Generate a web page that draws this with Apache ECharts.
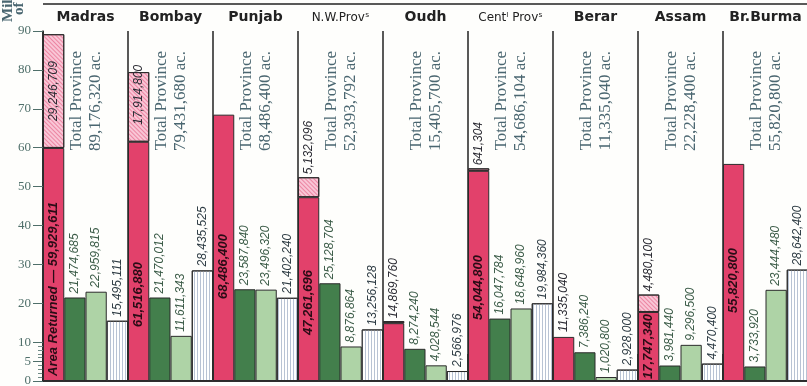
<!DOCTYPE html>
<html>
<head>
<meta charset="utf-8">
<script src="https://cdn.jsdelivr.net/npm/echarts@6/dist/echarts.min.js"></script>
<style>
  html, body { margin: 0; padding: 0; background: #fefefc; }
  #main { width: 807px; height: 386px; }
</style>
</head>
<body>
<div id="main"></div>
<script>
const provinces = ['Madras', 'Bombay', 'Punjab', 'N.W.Provˢ', 'Oudh', 'Centˡ Provˢ', 'Berar', 'Assam', 'Br.Burma']
const totalArea = [89176320, 79431680, 68486400, 52393792, 15405700, 54686104, 11335040, 22228400, 55820800]
const areaReturned = [59929611, 61516880, 68486400, 47261696, 14869760, 54044800, 11335040, 17747340, 55820800]
const areaNotReturned = [29246709, 17914800, 0, 5132096, 535940, 641304, 0, 4480100, 0]
const darkGreen = [21474685, 21470012, 23587840, 25128704, 8274240, 16047784, 7386240, 3981440, 3733920]
const lightGreen = [22959815, 11611343, 23496320, 8876864, 4028544, 18648960, 1020800, 9296500, 23444480]
const hatched = [15495111, 28435525, 21402240, 13256128, 2566976, 19984360, 2928000, 4470400, 28642400]
const yTicks = [0, 5, 10, 20, 30, 40, 50, 60, 70, 80, 90]
const yMinorTicks = [1, 2, 3, 4, 6, 7, 8, 9]

// where the printed figure sits on each red / pink bar
const redLabelPlace = [
  ['insideBottom', 5], ['insideBottom', 54], ['insideBottom', 82], ['insideBottom', 46],
  ['top', 5], ['insideBottom', 61], ['top', 5], ['insideBottom', 2], ['insideBottom', 68],
]
const pinkLabelPlace = [['inside', 0], ['insideBottom', 17], null, ['top', 3], null, ['top', 3], null, ['top', 3], null]

const fmt = (v) => v.toLocaleString('en-US')
const M = (v) => v / 1e6

const border = { borderColor: '#2b2b2b', borderWidth: 1 }
const numFont = { fontFamily: 'Liberation Sans', fontStyle: 'italic', fontSize: 12 }

const vLabel = (extra) => ({
  show: true,
  rotate: 90,
  align: 'left',
  verticalAlign: 'middle',
  ...numFont,
  ...extra,
})

const redData = areaReturned.map((v, i) => {
  const [position, distance] = redLabelPlace[i]
  const inside = position !== 'top'
  return {
    value: M(v),
    label: vLabel({
      position,
      distance,
      fontWeight: inside ? 'bold' : 'normal',
      fontSize: inside ? 13 : 12,
      color: inside ? '#2a0c16' : '#2b2b33',
      formatter: () => (i === 0 ? 'Area Returned — ' : '') + fmt(v),
    }),
  }
})

const pinkData = areaNotReturned.map((v, i) => {
  if (!v) return '-'
  const place = pinkLabelPlace[i]
  return {
    value: M(v),
    label: place
      ? vLabel({
          position: place[0],
          distance: place[1],
          align: place[0] === 'inside' ? 'center' : 'left',
          color: '#2b2b33',
          formatter: () => fmt(v),
        })
      : { show: false },
  }
})

const simpleSeries = (name, values, color, labelColor, decal) => ({
  name,
  type: 'bar',
  data: values.map(M),
  barGap: '0%',
  barCategoryGap: '0%',
  itemStyle: { color, ...border, decal },
  label: vLabel({ position: 'top', distance: 4, color: labelColor, formatter: (p) => fmt(values[p.dataIndex]) }),
})

const chart = echarts.init(document.getElementById('main'))

chart.setOption({
  backgroundColor: '#fefefc',
  animation: false,
  grid: { left: 43, top: 31, width: 765, height: 350, outerBoundsMode: 'none' },
  xAxis: [
    {
      type: 'category',
      data: provinces,
      position: 'bottom',
      axisLine: { lineStyle: { color: '#222', width: 1.5 } },
      axisTick: { show: false },
      axisLabel: { show: false },
      splitLine: { show: true, interval: 0, lineStyle: { color: '#222', width: 1.5 } },
    },
    {
      type: 'category',
      data: provinces.map((p) =>
        p.includes('ˢ') ? { value: p, textStyle: { fontWeight: 'normal', fontSize: 12 } } : p
      ),
      position: 'top',
      axisLine: { lineStyle: { color: '#222', width: 1.5 } },
      axisTick: { show: true, interval: 0, length: 27, lineStyle: { color: '#222', width: 1.5 } },
      axisLabel: {
        interval: 0,
        margin: 7,
        fontFamily: 'DejaVu Sans',
        fontWeight: 'bold',
        fontSize: 14,
        color: '#222',
      },
    },
  ],
  yAxis: [
    {
      type: 'value',
      min: 0,
      max: 90,
      position: 'left',
      axisLine: { show: true, lineStyle: { color: '#222', width: 1.5 } },
      axisTick: { show: true, customValues: yTicks, length: 10, lineStyle: { color: '#4f6f6a' } },
      axisLabel: { customValues: yTicks, margin: 12, fontFamily: 'Liberation Serif', fontSize: 13, color: '#4f6f6a' },
      splitLine: { show: false },
    },
    {
      type: 'value',
      min: 0,
      max: 90,
      position: 'left',
      axisLine: { show: false },
      axisTick: { show: true, customValues: yMinorTicks, length: 5, lineStyle: { color: '#6f8a86' } },
      axisLabel: { show: false },
      splitLine: { show: false },
    },
  ],
  series: [
    {
      name: 'Area Returned',
      type: 'bar',
      stack: 'area',
      data: redData,
      barGap: '0%',
      barCategoryGap: '0%',
      itemStyle: { color: '#e2416b', ...border },
    },
    {
      name: 'Area not Returned',
      type: 'bar',
      stack: 'area',
      data: pinkData,
      itemStyle: {
        color: '#f9c6d6',
        ...border,
        decal: { symbol: 'rect', symbolSize: 1, dashArrayX: [1, 0], dashArrayY: [1, 2], rotation: Math.PI / 4, color: 'rgba(226,80,120,0.55)' },
      },
    },
    simpleSeries('Dark green', darkGreen, '#437f4c', '#3c5c48'),
    simpleSeries('Light green', lightGreen, '#aed3a6', '#3c5c48'),
    simpleSeries('Hatched', hatched, '#ffffff', '#2e3c44', {
      symbol: 'rect', symbolSize: 1, dashArrayX: [1, 0], dashArrayY: [1, 2], rotation: Math.PI / 2, color: '#b8c3d4',
    }),
  ],
})

// "Total Province" notes centred in each column, plus frame and unit title
const graphics = provinces.map((p, i) => ({
  type: 'text',
  x: chart.convertToPixel({ xAxisIndex: 0 }, i) + 1,
  y: 51,
  rotation: Math.PI / 2,
  style: {
    text: 'Total Province\n' + fmt(totalArea[i]) + ' ac.',
    align: 'right',
    verticalAlign: 'middle',
    fontFamily: 'Liberation Serif',
    fontSize: 17,
    lineHeight: 19,
    fill: '#4a6670',
  },
}))

graphics.push(
  { type: 'line', shape: { x1: 43, y1: 4, x2: 808, y2: 4 }, style: { stroke: '#222', lineWidth: 1.5 } },
  { type: 'text', x: 8, y: 22, rotation: Math.PI / 2, style: { text: 'Millions', align: 'left', verticalAlign: 'middle', fontFamily: 'Liberation Serif', fontWeight: 'bold', fontSize: 15, fill: '#4a6670' } },
  { type: 'text', x: 19, y: 15, rotation: Math.PI / 2, style: { text: 'of acres', align: 'left', verticalAlign: 'middle', fontFamily: 'Liberation Serif', fontWeight: 'bold', fontSize: 15, fill: '#4a6670' } }
)

chart.setOption({ graphic: graphics })
</script>
</body>
</html>
